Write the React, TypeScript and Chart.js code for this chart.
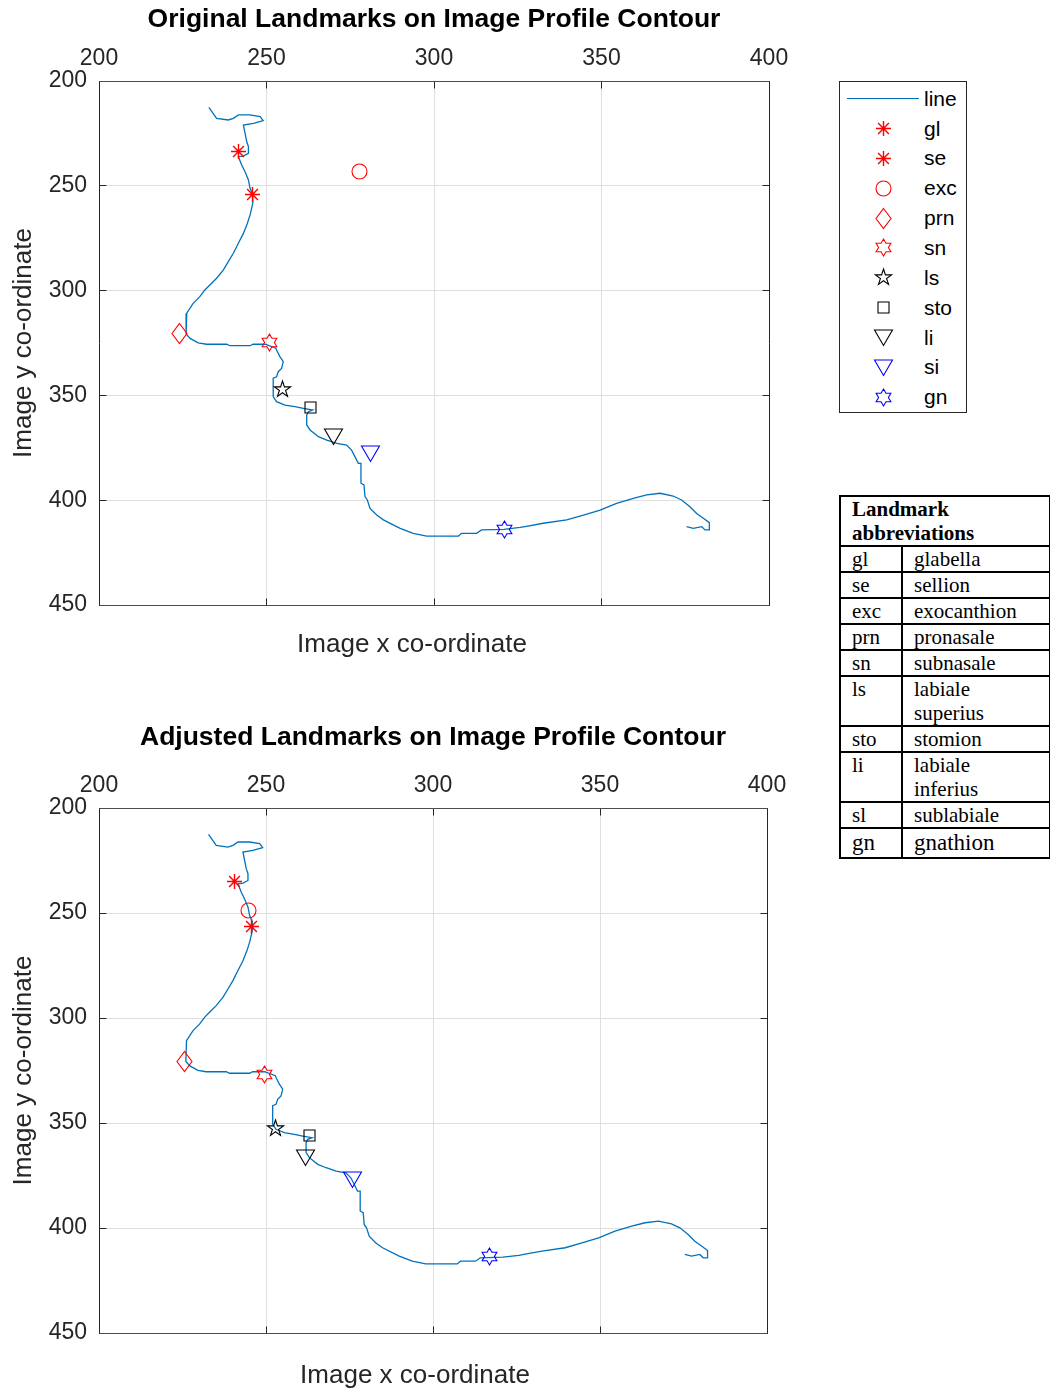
import React, { useEffect, useRef } from 'react';
import { Chart, registerables } from 'chart.js';

Chart.register(...registerables);

// Axis tick values (image pixel co-ordinates)
const xTickValues = [200, 250, 300, 350, 400];
const yTickValues = [200, 250, 300, 350, 400, 450];

// Traced facial profile contour, forehead down to the neck
const contourX = [
  232.8, 235.1, 238.6, 240.1, 241.6, 245.1, 248.1, 249.0, 246.1, 243.1,
  243.6, 244.1, 244.6, 244.6, 243.1, 241.6, 242.6, 243.6, 244.6, 245.1,
  245.9, 245.9, 245.1, 244.3, 243.1, 241.6, 240.1, 238.6, 237.1, 235.1,
  233.1, 231.6, 230.1, 228.1, 226.2, 226.0, 227.2, 229.6, 232.1, 238.1,
  239.1, 245.1, 246.0, 249.6, 252.8, 253.0, 254.0, 255.0, 254.5, 253.5,
  253.0, 252.0, 252.0, 253.0, 255.5, 258.5, 261.0, 263.8, 262.5, 262.0,
  262.0, 263.0, 265.5, 268.0, 271.0, 273.9, 275.4, 276.4, 277.4, 278.2,
  278.2, 279.1, 279.4, 280.1, 280.9, 282.9, 284.9, 289.9, 293.8, 297.8,
  307.3, 308.2, 312.7, 314.2, 320.9, 325.7, 327.2, 332.6, 339.6, 344.6,
  349.6, 354.5, 359.5, 363.5, 367.5, 371.4, 373.9, 376.4, 378.4, 380.4,
  382.2, 382.2, 380.9, 379.9, 377.4, 375.4,
];
const contourY = [
  212.6, 217.8, 218.6, 217.8, 216.2, 216.2, 217.0, 218.9, 220.2, 221.0,
  225.0, 229.0, 231.3, 234.5, 235.8, 236.1, 240.1, 243.3, 247.2, 251.2,
  254.1, 258.4, 263.9, 267.9, 272.7, 277.4, 282.2, 286.2, 290.2, 294.1,
  297.3, 299.7, 302.9, 306.1, 310.8, 320.7, 322.8, 324.9, 325.6, 325.6,
  326.3, 326.3, 325.6, 325.6, 327.5, 328.3, 331.5, 333.9, 337.1, 338.7,
  341.1, 341.8, 350.6, 353.0, 354.6, 355.4, 356.2, 357.0, 357.8, 359.4,
  364.1, 366.5, 369.7, 371.3, 372.9, 373.7, 376.1, 379.2, 382.4, 382.4,
  391.9, 392.7, 398.3, 399.9, 403.9, 407.1, 409.4, 413.4, 415.8, 417.1,
  417.1, 415.8, 415.8, 414.2, 413.9, 413.0, 412.6, 411.0, 409.4, 407.1,
  404.7, 401.5, 399.1, 397.5, 396.7, 398.0, 399.9, 403.1, 406.3, 408.6,
  410.7, 414.2, 414.2, 412.6, 413.4, 412.6,
];

// Landmarks, in legend order
const landmarkCodes = ['gl', 'se', 'exc', 'prn', 'sn', 'ls', 'sto', 'li', 'si', 'gn'];

const originalX = [241.6, 245.9, 277.9, 224.0, 251.0, 254.8, 263.0, 269.9, 281.0, 321.0];
const originalY = [233.7, 254.0, 243.4, 320.7, 324.9, 347.1, 355.9, 369.6, 377.9, 413.9];

const adjustedX = [240.7, 245.7, 244.9, 225.7, 249.7, 252.7, 262.9, 261.9, 275.9, 316.8];
const adjustedY = [235.1, 256.2, 248.9, 320.8, 327.1, 352.5, 355.9, 366.5, 377.0, 413.8];

// Abbreviation table
const abbrevCodes = ['gl', 'se', 'exc', 'prn', 'sn', 'ls', 'sto', 'li', 'sl', 'gn'];
const abbrevNames = [
  'glabella', 'sellion', 'exocanthion', 'pronasale', 'subnasale',
  'labiale\nsuperius', 'stomion', 'labiale\ninferius', 'sublabiale', 'gnathion',
];

const FONT = "'Liberation Sans', Arial, Helvetica, sans-serif";
const SERIF = "'Liberation Serif', 'Times New Roman', Times, serif";
const INK = '#262626';
const GRID = '#dfdfdf';
const LINE_BLUE = '#0072BD';

type Shape = 'asterisk' | 'circle' | 'diamond' | 'hexagram' | 'pentagram' | 'square' | 'triangleDown';

const markerStyles: Record<string, { shape: Shape; color: string }> = {
  gl: { shape: 'asterisk', color: '#FF0000' },
  se: { shape: 'asterisk', color: '#FF0000' },
  exc: { shape: 'circle', color: '#FF0000' },
  prn: { shape: 'diamond', color: '#FF0000' },
  sn: { shape: 'hexagram', color: '#FF0000' },
  ls: { shape: 'pentagram', color: '#000000' },
  sto: { shape: 'square', color: '#000000' },
  li: { shape: 'triangleDown', color: '#000000' },
  si: { shape: 'triangleDown', color: '#0000FF' },
  gn: { shape: 'hexagram', color: '#0000FF' },
};

function starPath(ctx: CanvasRenderingContext2D, cx: number, cy: number, n: number, R: number, r: number) {
  for (let k = 0; k < n * 2; k++) {
    const rad = k % 2 === 0 ? R : r;
    const ang = -Math.PI / 2 + (k * Math.PI) / n;
    const px = cx + rad * Math.cos(ang);
    const py = cy + rad * Math.sin(ang);
    if (k === 0) ctx.moveTo(px, py);
    else ctx.lineTo(px, py);
  }
  ctx.closePath();
}

function drawMarker(ctx: CanvasRenderingContext2D, shape: Shape, color: string, cx: number, cy: number) {
  ctx.save();
  ctx.strokeStyle = color;
  ctx.lineWidth = 1.1;
  ctx.lineJoin = 'miter';
  ctx.beginPath();
  switch (shape) {
    case 'asterisk': {
      const r = 7.5;
      const d = r * 0.72;
      ctx.lineWidth = 1.4;
      ctx.moveTo(cx - r, cy); ctx.lineTo(cx + r, cy);
      ctx.moveTo(cx, cy - r); ctx.lineTo(cx, cy + r);
      ctx.moveTo(cx - d, cy - d); ctx.lineTo(cx + d, cy + d);
      ctx.moveTo(cx - d, cy + d); ctx.lineTo(cx + d, cy - d);
      break;
    }
    case 'circle':
      ctx.arc(cx, cy, 7.5, 0, Math.PI * 2);
      break;
    case 'diamond':
      ctx.moveTo(cx, cy - 10);
      ctx.lineTo(cx + 7.5, cy);
      ctx.lineTo(cx, cy + 10);
      ctx.lineTo(cx - 7.5, cy);
      ctx.closePath();
      break;
    case 'hexagram':
      starPath(ctx, cx, cy, 6, 8.5, 8.5 / Math.sqrt(3));
      break;
    case 'pentagram':
      starPath(ctx, cx, cy, 5, 8.5, 8.5 * 0.382);
      break;
    case 'square':
      ctx.rect(cx - 5.5, cy - 5.5, 11, 11);
      break;
    case 'triangleDown':
      ctx.moveTo(cx - 9, cy - 7.5);
      ctx.lineTo(cx + 9, cy - 7.5);
      ctx.lineTo(cx, cy + 8);
      ctx.closePath();
      break;
  }
  ctx.stroke();
  ctx.restore();
}

function markerImage(shape: Shape, color: string): HTMLCanvasElement {
  const c = document.createElement('canvas');
  c.width = 25;
  c.height = 25;
  const ctx = c.getContext('2d')!;
  drawMarker(ctx, shape, color, 12.5, 12.5);
  return c;
}

const alignPx = (v: number) => Math.round(v - 0.5) + 0.5;

// Box outline with inward tick marks on every side
const axesFramePlugin = {
  id: 'axesFrame',
  afterDatasetsDraw(chart: any) {
    const { ctx, chartArea } = chart;
    const xs = chart.scales.x;
    const ys = chart.scales.y;
    const L = alignPx(chartArea.left);
    const R = alignPx(chartArea.right);
    const T = alignPx(chartArea.top);
    const B = alignPx(chartArea.bottom);
    ctx.save();
    ctx.lineWidth = 1;
    ctx.strokeStyle = INK;
    ctx.beginPath();
    xTickValues.forEach((v) => {
      const p = alignPx(xs.getPixelForValue(v));
      ctx.moveTo(p, T); ctx.lineTo(p, T + 7);
      ctx.moveTo(p, B); ctx.lineTo(p, B - 7);
    });
    yTickValues.forEach((v) => {
      const p = alignPx(ys.getPixelForValue(v));
      ctx.moveTo(L, p); ctx.lineTo(L + 7, p);
      ctx.moveTo(R, p); ctx.lineTo(R - 7, p);
    });
    ctx.stroke();
    ctx.strokeStyle = '#4d4d4d';
    ctx.beginPath();
    ctx.moveTo(L, T); ctx.lineTo(R, T);
    ctx.moveTo(L, B); ctx.lineTo(R, B);
    ctx.stroke();
    ctx.strokeStyle = INK;
    ctx.beginPath();
    ctx.moveTo(L, T); ctx.lineTo(L, B);
    ctx.moveTo(R, T); ctx.lineTo(R, B);
    ctx.stroke();
    ctx.restore();
  },
};

// Plot title centred over the plot box, and the x-axis caption under it
const plotTextPlugin = {
  id: 'plotText',
  afterDraw(chart: any, _args: any, opts: any) {
    const { ctx, chartArea } = chart;
    ctx.save();
    ctx.textAlign = 'center';
    ctx.textBaseline = 'middle';
    ctx.font = `bold 26.5px ${FONT}`;
    ctx.fillStyle = '#000000';
    ctx.fillText(opts.title, (chartArea.left + chartArea.right) / 2, opts.titleY);
    ctx.font = `26px ${FONT}`;
    ctx.fillStyle = INK;
    ctx.fillText(opts.caption, chartArea.left + opts.captionDx, chartArea.bottom + opts.captionDy);
    ctx.restore();
  },
};

const crispMarkersPlugin = {
  id: 'crispMarkers',
  beforeDatasetsDraw(chart: any) {
    chart.ctx.save();
    chart.ctx.imageSmoothingEnabled = false;
  },
  afterDatasetsDraw(chart: any) {
    chart.ctx.restore();
  },
};

interface ProfileChartProps {
  title: string;
  lmX: number[];
  lmY: number[];
  top: number;
  height: number;
  titleY: number;
  axisHeight: number;
  padRight: number;
  padBottom: number;
  captionDx: number;
  captionDy: number;
}

function ProfileChart(p: ProfileChartProps) {
  const ref = useRef<HTMLCanvasElement>(null);

  useEffect(() => {
    const canvas = ref.current;
    if (!canvas) return;
    const contour = contourX.map((x, i) => ({ x, y: contourY[i] }));
    const datasets: any[] = [
      {
        label: 'line',
        data: contour,
        showLine: true,
        borderColor: LINE_BLUE,
        borderWidth: 1.3,
        pointRadius: 0,
        pointHoverRadius: 0,
        tension: 0,
        order: 1,
      },
    ];
    landmarkCodes.forEach((code, i) => {
      const st = markerStyles[code];
      datasets.push({
        label: code,
        data: [{ x: p.lmX[i], y: p.lmY[i] }],
        showLine: false,
        pointStyle: markerImage(st.shape, st.color),
        pointRadius: 8,
        pointHoverRadius: 8,
        order: 0,
      });
    });

    const tickFont = { family: FONT, size: 23, lineHeight: 1.2 };

    const chart = new Chart(canvas, {
      type: 'scatter',
      data: { datasets },
      options: {
        animation: false,
        responsive: false,
        maintainAspectRatio: false,
        events: [],
        layout: { padding: { left: 0, top: 0, right: p.padRight, bottom: p.padBottom } },
        plugins: {
          legend: { display: false },
          tooltip: { enabled: false },
          title: { display: false },
          plotText: {
            title: p.title,
            titleY: p.titleY,
            caption: 'Image x co-ordinate',
            captionDx: p.captionDx,
            captionDy: p.captionDy,
          },
        } as any,
        scales: {
          x: {
            type: 'linear',
            position: 'top',
            min: 200,
            max: 400,
            afterBuildTicks: (s: any) => {
              s.ticks = xTickValues.map((v) => ({ value: v }));
            },
            afterFit: (s: any) => {
              s.height = p.axisHeight;
            },
            ticks: { font: tickFont, color: INK, padding: 9, maxRotation: 0, autoSkip: false },
            grid: { color: GRID, lineWidth: 1, drawTicks: false },
            border: { display: false },
          },
          y: {
            type: 'linear',
            reverse: true,
            min: 200,
            max: 450,
            afterBuildTicks: (s: any) => {
              s.ticks = yTickValues.map((v) => ({ value: v }));
            },
            afterFit: (s: any) => {
              s.width = 99;
            },
            ticks: { font: tickFont, color: INK, padding: 12, autoSkip: false },
            grid: { color: GRID, lineWidth: 1, drawTicks: false },
            border: { display: false },
            title: {
              display: true,
              text: 'Image y co-ordinate',
              color: INK,
              font: { family: FONT, size: 26, lineHeight: 1.2 },
              padding: { top: 8, bottom: 0 },
            },
          },
        },
      } as any,
      plugins: [crispMarkersPlugin, axesFramePlugin, plotTextPlugin],
    });

    return () => chart.destroy();
  }, []);

  return (
    <canvas
      ref={ref}
      width={800}
      height={p.height}
      style={{ position: 'absolute', left: 0, top: p.top, width: 800, height: p.height }}
    />
  );
}

function LegendSwatch({ code }: { code: string }) {
  const ref = useRef<HTMLCanvasElement>(null);
  useEffect(() => {
    const c = ref.current;
    if (!c) return;
    const ctx = c.getContext('2d')!;
    ctx.clearRect(0, 0, c.width, c.height);
    if (code === 'line') {
      ctx.strokeStyle = LINE_BLUE;
      ctx.lineWidth = 1.2;
      ctx.beginPath();
      ctx.moveTo(0, 12.5);
      ctx.lineTo(72, 12.5);
      ctx.stroke();
    } else {
      const st = markerStyles[code];
      drawMarker(ctx, st.shape, st.color, 36.5, 12.5);
    }
  }, [code]);
  return <canvas ref={ref} width={73} height={25} style={{ display: 'block' }} />;
}

function Legend() {
  const entries = ['line', ...landmarkCodes];
  return (
    <div
      style={{
        position: 'absolute',
        left: 839,
        top: 81,
        width: 128,
        height: 332,
        boxSizing: 'border-box',
        border: `1px solid ${INK}`,
        background: '#ffffff',
      }}
    >
      {entries.map((code, i) => {
        const cy = 16.7 + i * 29.85;
        return (
          <div key={code}>
            <div style={{ position: 'absolute', left: 7, top: Math.round(cy - 12.5) }}>
              <LegendSwatch code={code} />
            </div>
            <div
              style={{
                position: 'absolute',
                left: 84,
                top: Math.round(cy - 12),
                fontFamily: FONT,
                fontSize: 21,
                lineHeight: '24px',
                color: '#000',
                whiteSpace: 'nowrap',
              }}
            >
              {code}
            </div>
          </div>
        );
      })}
    </div>
  );
}

function AbbrevTable() {
  const cell: React.CSSProperties = {
    border: '2px solid #000',
    padding: '0 0 0 11px',
    verticalAlign: 'top',
    lineHeight: '24px',
    textAlign: 'left',
  };
  const last = abbrevCodes.length - 1;
  return (
    <table
      style={{
        position: 'absolute',
        left: 839,
        top: 495,
        width: 210,
        borderCollapse: 'collapse',
        tableLayout: 'fixed',
        fontFamily: SERIF,
        fontSize: 21,
        color: '#000',
      }}
    >
      <colgroup>
        <col style={{ width: 62 }} />
        <col style={{ width: 148 }} />
      </colgroup>
      <tbody>
        <tr>
          <th colSpan={2} style={{ ...cell, fontWeight: 'bold' }}>
            Landmark
            <br />
            abbreviations
          </th>
        </tr>
        {abbrevCodes.map((code, i) => {
          const big = i === last ? { fontSize: 23, lineHeight: '28px' } : {};
          return (
            <tr key={code}>
              <td style={{ ...cell, ...big }}>{code}</td>
              <td style={{ ...cell, ...big, whiteSpace: 'pre-line' }}>{abbrevNames[i]}</td>
            </tr>
          );
        })}
      </tbody>
    </table>
  );
}

export default function App() {
  useEffect(() => {
    document.body.style.margin = '0';
    document.body.style.background = '#ffffff';
  }, []);

  return (
    <div style={{ position: 'relative', width: 1050, height: 1393, overflow: 'hidden', background: '#ffffff' }}>
      <ProfileChart
        title="Original Landmarks on Image Profile Contour"
        lmX={originalX}
        lmY={originalY}
        top={0}
        height={680}
        titleY={20}
        axisHeight={81}
        padRight={31}
        padBottom={75}
        captionDx={313}
        captionDy={40}
      />
      <ProfileChart
        title="Adjusted Landmarks on Image Profile Contour"
        lmX={adjustedX}
        lmY={adjustedY}
        top={700}
        height={693}
        titleY={38}
        axisHeight={108}
        padRight={33}
        padBottom={60}
        captionDx={316}
        captionDy={43}
      />
      <Legend />
      <AbbrevTable />
    </div>
  );
}
